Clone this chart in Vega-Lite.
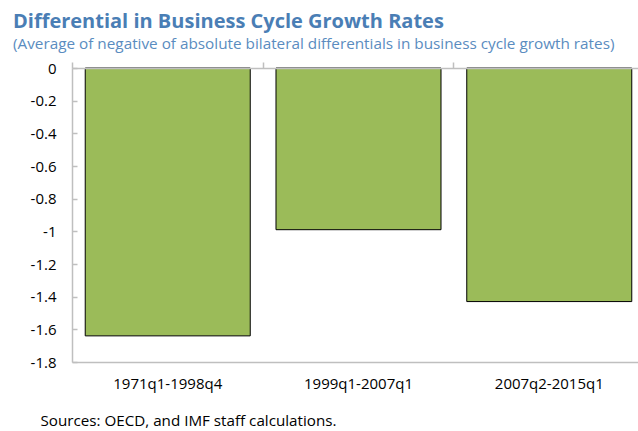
{
  "$schema": "https://vega.github.io/schema/vega-lite/v6.json",
  "width": 566,
  "height": 294,
  "autosize": "none",
  "padding": {"left": 72, "top": 68, "right": 0, "bottom": 69},
  "background": "white",
  "config": {"view": {"stroke": null}, "font": "Open Sans"},
  "title": {
    "text": "Differential in Business Cycle Growth Rates",
    "subtitle": "(Average of negative of absolute bilateral differentials in business cycle growth rates)",
    "anchor": "start",
    "frame": "group",
    "dx": -59,
    "font": "Open Sans",
    "fontSize": 20,
    "fontWeight": "bold",
    "color": "#4A7EB5",
    "subtitleFont": "Open Sans",
    "subtitleFontSize": 15.3,
    "subtitleColor": "#5A8CC0",
    "subtitlePadding": 5,
    "offset": 9
  },
  "data": {
    "values": [
      {"period": "1971q1-1998q4", "value": -1.64},
      {"period": "1999q1-2007q1", "value": -0.99},
      {"period": "2007q2-2015q1", "value": -1.43}
    ]
  },
  "layer": [
    {
      "mark": {"type": "bar", "fill": "#9BBB59", "stroke": "#000000", "strokeWidth": 1},
      "encoding": {
        "x": {
          "field": "period",
          "type": "nominal",
          "sort": null,
          "scale": {"paddingInner": 0.135, "paddingOuter": 0.051, "align": 0.68},
          "axis": {
            "orient": "bottom",
            "title": "Sources: OECD, and IMF staff calculations.",
            "titleAnchor": "start",
            "titleAlign": "left",
            "titleBaseline": "alphabetic",
            "titleX": -32,
            "titleY": 63,
            "titleFont": "Open Sans",
            "titleFontSize": 15.2,
            "titleFontWeight": "normal",
            "titleColor": "#000000",
            "labelAngle": 0,
            "labelFont": "Open Sans",
            "labelFontSize": 15,
            "labelColor": "#000000",
            "labelPadding": 14,
            "ticks": false,
            "domainColor": "#BFBFBF",
            "domainWidth": 1.5
          }
        },
        "y": {
          "field": "value",
          "type": "quantitative",
          "scale": {"domain": [-1.8, 0], "nice": false, "zero": false},
          "axis": {
            "title": null,
            "values": [0, -0.2, -0.4, -0.6, -0.8, -1, -1.2, -1.4, -1.6, -1.8],
            "labelExpr": "datum.value + ''",
            "labelFont": "Open Sans",
            "labelFontSize": 15,
            "labelColor": "#000000",
            "labelPadding": 21,
            "tickSize": -5,
            "tickColor": "#BFBFBF",
            "tickWidth": 1.5,
            "domainColor": "#BFBFBF",
            "domainWidth": 1.5,
            "grid": false
          }
        }
      }
    },
    {
      "mark": {"type": "bar", "opacity": 0},
      "encoding": {
        "x": {
          "field": "period",
          "type": "nominal",
          "sort": null,
          "axis": {
            "orient": "top",
            "title": null,
            "labels": false,
            "ticks": true,
            "tickSize": 6,
            "tickColor": "#BFBFBF",
            "tickWidth": 1.5,
            "bandPosition": -0.078,
            "domainColor": "#BFBFBF",
            "domainWidth": 1.5,
            "zindex": 1
          }
        }
      }
    }
  ],
  "resolve": {"axis": {"x": "independent"}}
}
